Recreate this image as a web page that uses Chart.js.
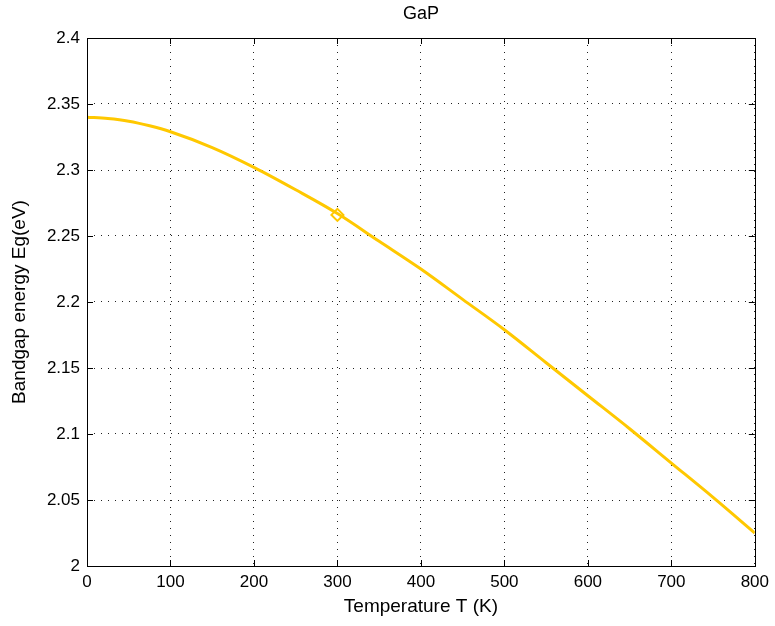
<!DOCTYPE html>
<html>
<head>
<meta charset="utf-8">
<script src="https://cdn.jsdelivr.net/npm/chart.js@4"></script>
<style>
html, body { margin: 0; padding: 0; background: #fff; }
#wrap { width: 775px; height: 626px; }
</style>
</head>
<body>
<div id="wrap"><canvas id="gapChart" width="775" height="626"></canvas></div>
<script>
/* data */
const temps = [0, 25, 50, 75, 100, 150, 200, 250, 300, 350, 400, 450, 500, 550, 600, 650, 700, 750, 800];
const energy = [2.340, 2.339, 2.337, 2.3335, 2.329, 2.317, 2.302, 2.285, 2.267, 2.246, 2.225, 2.202, 2.179, 2.154, 2.129, 2.104, 2.078, 2.052, 2.025];
const markT = [300];
const markE = [2.266];
const xTicks = [0, 100, 200, 300, 400, 500, 600, 700, 800];
const yTicks = [2, 2.05, 2.1, 2.15, 2.2, 2.25, 2.3, 2.35, 2.4];

const yellow = '#ffc800';
const font = 'Liberation Sans, Arial, sans-serif';

/* box, inward ticks and title, matlab style */
const boxPlugin = {
  id: 'box',
  afterDatasetsDraw(chart) {
    const c = chart.ctx, a = chart.chartArea;
    const xs = chart.scales.x, ys = chart.scales.y;
    c.save();
    c.strokeStyle = '#000';
    c.lineWidth = 1;
    c.beginPath();
    xTicks.forEach(function (t) {
      const px = Math.round(xs.getPixelForValue(t)) + 0.5;
      c.moveTo(px, a.bottom); c.lineTo(px, a.bottom - 6);
      c.moveTo(px, a.top); c.lineTo(px, a.top + 6);
    });
    yTicks.forEach(function (t) {
      const py = Math.round(ys.getPixelForValue(t)) + 0.5;
      c.moveTo(a.left, py); c.lineTo(a.left + 6, py);
      c.moveTo(a.right, py); c.lineTo(a.right - 6, py);
    });
    c.stroke();
    c.strokeRect(Math.round(a.left) + 0.5, Math.round(a.top) + 0.5, Math.round(a.right - a.left), Math.round(a.bottom - a.top));
    c.fillStyle = '#000';
    c.font = '18px ' + font;
    c.textAlign = 'center';
    c.textBaseline = 'middle';
    c.fillText('GaP', (a.left + a.right) / 2, 14);
    c.restore();
  }
};

new Chart(document.getElementById('gapChart'), {
  type: 'line',
  data: {
    datasets: [{
      label: 'Eg',
      data: temps.map(function (t, i) { return { x: t, y: energy[i] }; }),
      borderColor: yellow,
      borderWidth: 3,
      pointRadius: 0,
      cubicInterpolationMode: 'monotone',
      fill: false
    }, {
      label: 'T = 300 K',
      data: markT.map(function (t, i) { return { x: t, y: markE[i] }; }),
      showLine: false,
      pointStyle: 'rectRot',
      pointRadius: 6,
      pointBorderWidth: 2,
      pointBorderColor: yellow,
      pointBackgroundColor: 'rgba(0,0,0,0)'
    }]
  },
  options: {
    responsive: false,
    animation: false,
    layout: { padding: { top: 38, right: 18, left: 0, bottom: 0 } },
    plugins: {
      legend: { display: false },
      title: { display: false },
      tooltip: { enabled: false }
    },
    scales: {
      x: {
        type: 'linear',
        min: 0,
        max: 800,
        afterBuildTicks: function (s) { s.ticks = xTicks.map(function (v) { return { value: v }; }); },
        afterFit: function (s) { s.height = 60; },
        border: { display: false, dash: [1, 6] },
        grid: { color: '#222', lineWidth: 1, tickLength: 0, drawTicks: false },
        ticks: { color: '#000', font: { family: font, size: 17 }, padding: 6, maxRotation: 0 },
        title: { display: true, text: 'Temperature T (K)', color: '#000', font: { family: font, size: 19 }, padding: { top: 0, bottom: 8 } }
      },
      y: {
        min: 2,
        max: 2.4,
        afterBuildTicks: function (s) { s.ticks = yTicks.map(function (v) { return { value: v }; }); },
        afterFit: function (s) { s.width = 87; },
        border: { display: false, dash: [1, 6] },
        grid: { color: '#222', lineWidth: 1, tickLength: 0, drawTicks: false },
        ticks: {
          color: '#000', font: { family: font, size: 17 }, padding: 7,
          callback: function (v) { return String(+v.toFixed(2)); }
        },
        title: { display: true, text: 'Bandgap energy Eg(eV)', color: '#000', font: { family: font, size: 19 }, padding: { top: 8, bottom: 0 } }
      }
    }
  },
  plugins: [boxPlugin]
});
</script>
</body>
</html>
